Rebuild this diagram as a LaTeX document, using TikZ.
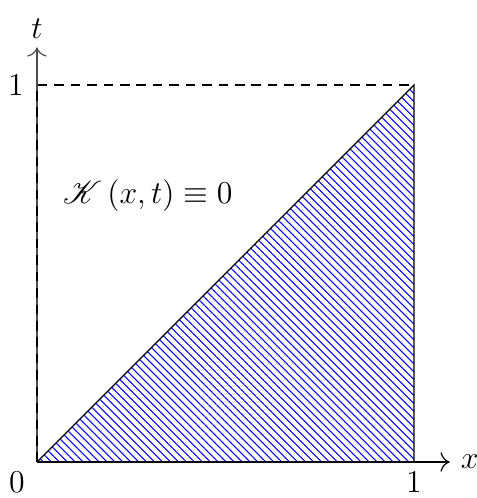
\documentclass[tikz,border=0pt]{standalone}
\usepackage{amsmath,amssymb,mathrsfs}
\usepackage{tikz}
\usetikzlibrary{arrows.meta,patterns.meta,positioning,calc}

\begin{document}
\begin{tikzpicture}[x=5cm, y=5cm, every node/.style={font=\large},
  axis/.style={-{To[length=3.5pt]}, line width=0.45pt},
  guide/.style={dash pattern=on 3.6pt off 2.6pt, line width=0.45pt},
  hatch/.style={pattern={Lines[angle=-45, distance=2.12pt, line width=0.4pt]}, pattern color=blue}]
  \useasboundingbox (-0.098,-0.0955) rectangle (1.167,1.2255);
  % Corners
  \coordinate (O) at (0,0);
  \coordinate (A) at (1,0);
  \coordinate (B) at (1,1);
  \coordinate (C) at (0,1);
  \coordinate (xend) at (1.095,0);
  \coordinate (tend) at (0,1.10);
  % Hatched triangle
  \fill[hatch] (O) -- (B) -- (A) -- cycle;
  % Axes
  \draw[axis, black!70] (O) -- (tend);
  \draw[axis] (O) -- (xend);
  \node[right=3pt of xend, inner sep=1pt] (xlab) {$x$};
  \node[above=2pt of tend, inner sep=1pt] (tlab) {$t$};
  % Dashed guides and triangle edges
  \draw[guide] (O) -- (C) -- (B);
  \draw[line width=0.45pt] (O) -- (B) -- (A);
  % Tick labels
  \node (zero) at (-0.053,-0.053) {$0$};
  \node (xone) at (1,-0.053) {$1$};
  \node (tone) at (-0.056,1) {$1$};
  % Kernel label
  \node (kern) at (0.294,0.708) {$\mathscr{K}\,(x,t)\equiv 0$};
\end{tikzpicture}
\end{document}
